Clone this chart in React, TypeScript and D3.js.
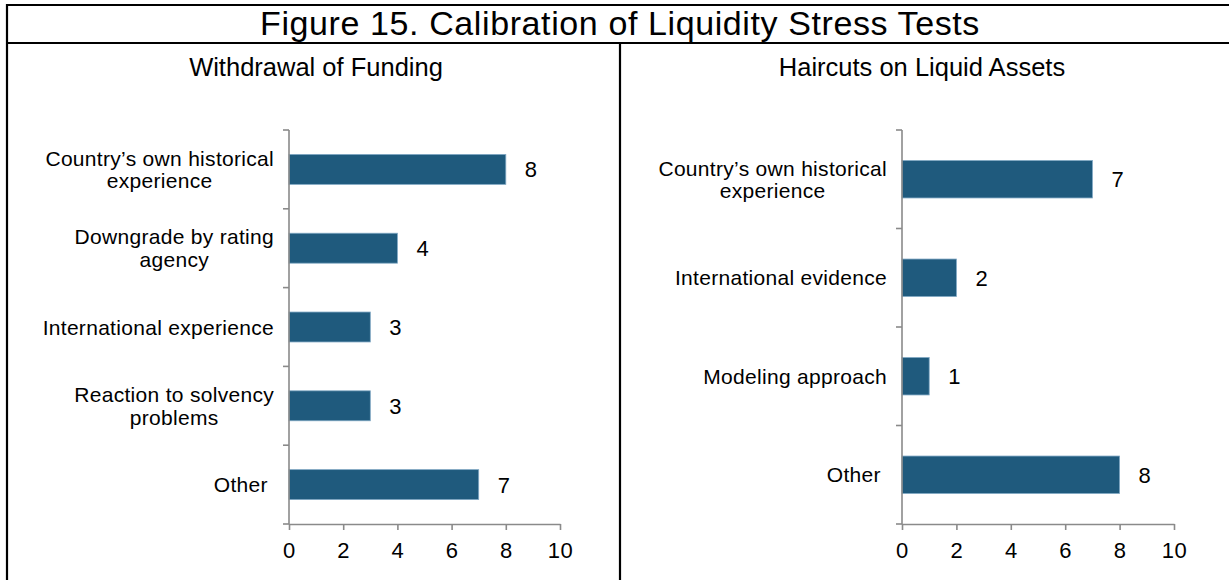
import React, { useRef, useEffect } from 'react'
import * as d3 from 'd3'

const FIG_TITLE = 'Figure 15. Calibration of Liquidity Stress Tests'

const fundingTitle = 'Withdrawal of Funding'
const fundingLabels: string[][] = [
  ['Country\u2019s own historical', 'experience'],
  ['Downgrade by rating', 'agency'],
  ['International experience'],
  ['Reaction to solvency', 'problems'],
  ['Other '],
]
const fundingValues = [8, 4, 3, 3, 7]

const haircutTitle = 'Haircuts on Liquid Assets'
const haircutLabels: string[][] = [
  ['Country\u2019s own historical', 'experience'],
  ['International evidence'],
  ['Modeling approach'],
  ['Other '],
]
const haircutValues = [7, 2, 1, 8]

const xTicks = [0, 2, 4, 6, 8, 10]

const W = 1229
const H = 580
const FONT = '"Liberation Sans", Arial, sans-serif'
const BAR = '#1f5a7d'
const AXIS = '#8a8a8a'

type Panel = {
  title: string
  titleX: number
  labels: string[][]
  values: number[]
  x0: number
  x1: number
}

const panels: Panel[] = [
  { title: fundingTitle, titleX: 316, labels: fundingLabels, values: fundingValues, x0: 289, x1: 560 },
  { title: haircutTitle, titleX: 922, labels: haircutLabels, values: haircutValues, x0: 902, x1: 1174 },
]

function drawPanel(svg: d3.Selection<SVGSVGElement, unknown, null, undefined>, p: Panel) {
  const top = 130
  const bottom = 524
  const idx = p.values.map((_, i) => i)

  const x = d3.scaleLinear().domain([0, 10]).range([p.x0, p.x1])
  const y = d3.scaleBand<number>().domain(idx).range([top, bottom]).paddingInner(0.62).paddingOuter(0.31)
  const step = y.step()

  const g = svg.append('g')

  g.append('text')
    .attr('x', p.titleX)
    .attr('y', 76)
    .attr('text-anchor', 'middle')
    .attr('font-size', 25.5)
    .attr('fill', '#000')
    .text(p.title)

  // bars
  g.selectAll('rect.bar')
    .data(p.values)
    .join('rect')
    .attr('class', 'bar')
    .attr('x', x(0))
    .attr('y', (_, i) => y(i)!)
    .attr('width', (d) => x(d) - x(0))
    .attr('height', y.bandwidth())
    .attr('fill', BAR)
    .attr('stroke', '#7fa7c3')
    .attr('stroke-width', 0.8)

  // value labels
  g.selectAll('text.val')
    .data(p.values)
    .join('text')
    .attr('class', 'val')
    .attr('x', (d) => x(d) + 19)
    .attr('y', (_, i) => y(i)! + y.bandwidth() / 2 + 8)
    .attr('font-size', 22)
    .text((d) => d)

  // y axis
  const yAx = g.append('g').attr('stroke', AXIS).attr('stroke-width', 1.6)
  yAx.append('line').attr('x1', x(0)).attr('x2', x(0)).attr('y1', top).attr('y2', bottom)
  d3.range(p.values.length + 1).forEach((k) => {
    const yy = top + k * step
    yAx.append('line').attr('x1', x(0) - 6).attr('x2', x(0)).attr('y1', yy).attr('y2', yy)
  })

  // x axis
  const xAx = g.append('g').attr('transform', `translate(0,${bottom})`)
    .call(d3.axisBottom(x).tickValues(xTicks).tickSize(6).tickPadding(13).tickSizeOuter(0))
  xAx.select('.domain').attr('stroke', AXIS).attr('stroke-width', 1.6)
  xAx.selectAll('.tick line').attr('stroke', AXIS).attr('stroke-width', 1.6)
  xAx.selectAll('.tick text')
    .attr('font-size', 22)
    .attr('font-family', FONT)
    .attr('letter-spacing', 0.6)
    .attr('fill', '#000')
    .attr('dy', '0.68em')

  // category labels: block right-aligned to the axis, lines centred in the block
  const right = x(0) - 15
  const lh = 22.5
  p.labels.forEach((lines, i) => {
    const cy = y(i)! + y.bandwidth() / 2
    const t = g.append('text')
      .attr('font-size', 21)
      .attr('letter-spacing', 0.3)
      .style('white-space', 'pre')
    const spans = lines.map((ln, j) =>
      t.append('tspan')
        .attr('y', cy + 7.5 - ((lines.length - 1) * lh) / 2 + j * lh)
        .text(ln),
    )
    const widths = spans.map((s) => (s.node() as SVGTSpanElement).getComputedTextLength())
    const bw = Math.max(...widths)
    spans.forEach((s) => s.attr('x', right - bw / 2).attr('text-anchor', 'middle'))
  })
}

function App() {
  const svgRef = useRef<SVGSVGElement>(null)

  useEffect(() => {
    if (!svgRef.current) return
    const svg = d3.select(svgRef.current)
    svg.selectAll('*').remove()

    svg.append('rect').attr('width', W).attr('height', H).attr('fill', '#fff')

    // frame
    const frame = svg.append('g').attr('stroke', '#000').attr('stroke-width', 2.2)
    frame.append('line').attr('x1', 6).attr('x2', W).attr('y1', 5).attr('y2', 5)
    frame.append('line').attr('x1', 7).attr('x2', 7).attr('y1', 4).attr('y2', H)
    frame.append('line').attr('x1', 6).attr('x2', W).attr('y1', 43).attr('y2', 43)
    frame.append('line').attr('x1', 620).attr('x2', 620).attr('y1', 43).attr('y2', H)

    svg.append('text')
      .attr('x', 620)
      .attr('y', 35)
      .attr('text-anchor', 'middle')
      .attr('font-size', 34)
      .attr('letter-spacing', 0.6)
      .text(FIG_TITLE)

    panels.forEach((p) => drawPanel(svg, p))
  }, [])

  return (
    <svg
      ref={svgRef}
      width={W}
      height={H}
      fontFamily={FONT}
      style={{ position: 'absolute', left: 0, top: 0, display: 'block' }}
    />
  )
}

export default App
